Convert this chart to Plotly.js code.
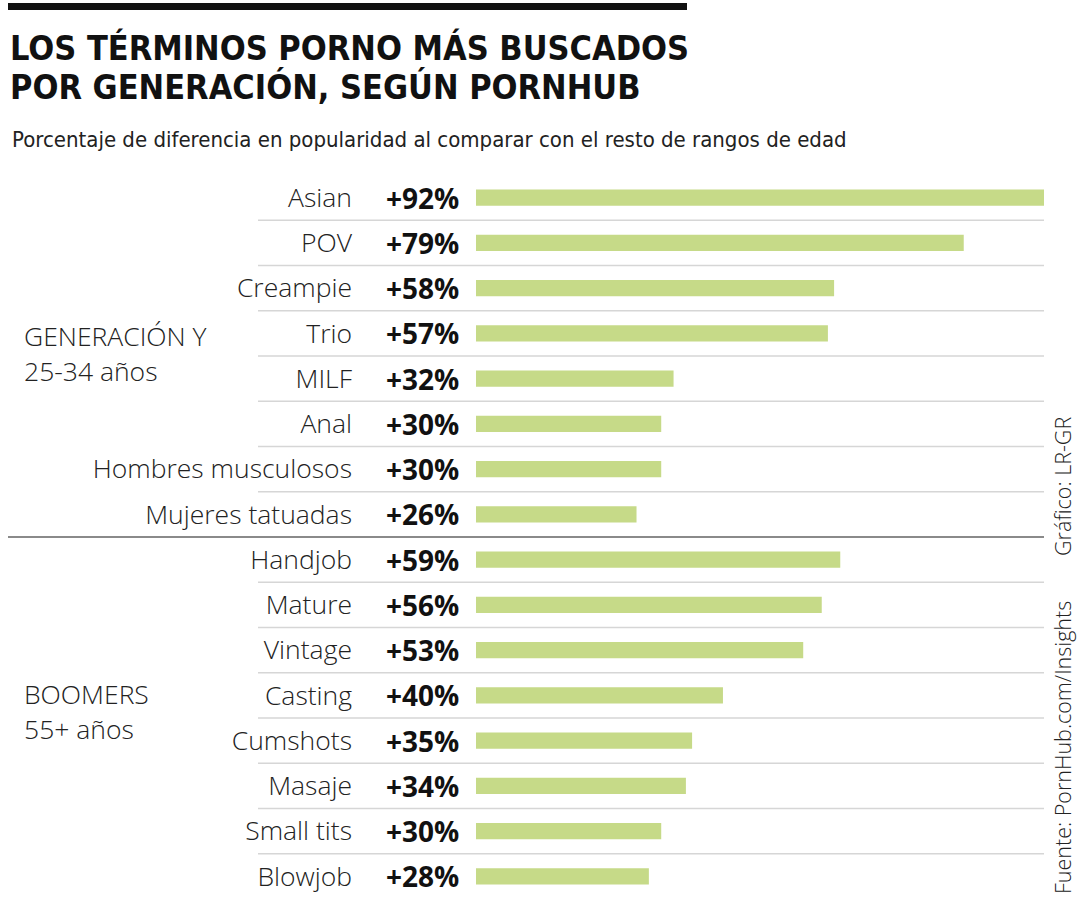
<!DOCTYPE html>
<html>
<head>
<meta charset="utf-8">
<script src="https://cdn.plot.ly/plotly-3.0.1.min.js"></script>
<style>
html,body{margin:0;padding:0;background:#fff;overflow:hidden;}
#chart{width:1080px;height:900px;}
</style>
</head>
<body>
<div id="chart"></div>
<script>
// ---- data ----
const terms = ["Asian","POV","Creampie","Trio","MILF","Anal","Hombres musculosos","Mujeres tatuadas",
               "Handjob","Mature","Vintage","Casting","Cumshots","Masaje","Small tits","Blowjob"];
const values = [92,79,58,57,32,30,30,26,59,56,53,40,35,34,30,28];
const groupNames = ["GENERACIÓN Y","BOOMERS"];
const groupAges = ["25-34 años","55+ años"];
const groupSizes = [8,8];
const titleLines = ["LOS TÉRMINOS PORNO MÁS BUSCADOS","POR GENERACIÓN, SEGÚN PORNHUB"];
const subtitle = "Porcentaje de diferencia en popularidad al comparar con el resto de rangos de edad";
const credit = "Gráfico: LR-GR";
const source = "Fuente: PornHub.com/Insights";

// ---- layout helpers (pixel -> paper) ----
const W = 1080, H = 900;
const mL = 476, mR = 36, mT = 175, mB = 1;
const pw = W - mL - mR, ph = H - mT - mB;
const px = x => (x - mL) / pw;
const py = y => (H - mB - y) / ph;

const LIGHT = "'Open Sans', 'Noto Sans', sans-serif";
const NARROW = "'Liberation Sans Narrow', 'DejaVu Sans Condensed', sans-serif";

const trace = {
  type: "bar",
  orientation: "h",
  y: terms,
  x: values,
  marker: {color: "#c6da88"},
  hoverinfo: "none"
};

const annotations = [];
// percentage labels
terms.forEach((t, i) => {
  annotations.push({
    xref: "paper", yref: "y", x: px(461), y: t, xanchor: "right", yanchor: "middle",
    text: "+" + values[i] + "%", showarrow: false,
    font: {family: LIGHT, size: 28, color: "#111", weight: 700}
  });
});
// group labels
const groupCenters = [354, 712];
groupNames.forEach((g, k) => {
  annotations.push({xref: "paper", yref: "paper", x: px(22), y: py(groupCenters[k] - 18),
    xanchor: "left", yanchor: "middle", text: g, showarrow: false,
    font: {family: LIGHT, size: 26.5, color: "#222", weight: 300}});
  annotations.push({xref: "paper", yref: "paper", x: px(22), y: py(groupCenters[k] + 17),
    xanchor: "left", yanchor: "middle", text: groupAges[k], showarrow: false,
    font: {family: LIGHT, size: 26.5, color: "#222", weight: 300}});
});
// title lines
annotations.push({xref: "paper", yref: "paper", x: px(8), y: py(48), xanchor: "left", yanchor: "middle",
  text: titleLines[0], showarrow: false, font: {family: NARROW, size: 34, color: "#111", weight: 700}});
annotations.push({xref: "paper", yref: "paper", x: px(8), y: py(87), xanchor: "left", yanchor: "middle",
  text: titleLines[1], showarrow: false, font: {family: NARROW, size: 34, color: "#111", weight: 700}});
annotations.push({xref: "paper", yref: "paper", x: px(10), y: py(139), xanchor: "left", yanchor: "middle",
  text: subtitle, showarrow: false, font: {family: NARROW, size: 22, color: "#222"}});
// rotated credits
annotations.push({xref: "paper", yref: "paper", x: px(1062), y: py(487), xanchor: "center", yanchor: "middle",
  text: credit, textangle: -90, showarrow: false, font: {family: LIGHT, size: 21.5, color: "#222", weight: 300}});
annotations.push({xref: "paper", yref: "paper", x: px(1062), y: py(748), xanchor: "center", yanchor: "middle",
  text: source, textangle: -90, showarrow: false, font: {family: LIGHT, size: 21.5, color: "#222", weight: 300}});

const shapes = [];
// top black rule
shapes.push({type: "rect", xref: "paper", yref: "paper", x0: px(8), x1: px(687), y0: py(3), y1: py(10),
  fillcolor: "#111", line: {width: 0}, layer: "above"});
// row separators
const sep = groupSizes[0] - 0.5;
for (let i = 0; i < terms.length - 1; i++) {
  const yv = i + 0.5;
  if (yv === sep) {
    shapes.push({type: "line", xref: "paper", yref: "y", x0: px(8), x1: px(1044), y0: yv, y1: yv,
      line: {color: "#8a8a8a", width: 2}, layer: "below"});
  } else {
    shapes.push({type: "line", xref: "paper", yref: "y", x0: px(258), x1: px(1044), y0: yv, y1: yv,
      line: {color: "#d6d6d6", width: 1.5}, layer: "below"});
  }
}

const layout = {
  width: W, height: H,
  margin: {l: mL, r: mR, t: mT, b: mB, pad: 0},
  paper_bgcolor: "#fff", plot_bgcolor: "#fff",
  bargap: 0.645,
  showlegend: false,
  xaxis: {range: [0, 92], visible: false, fixedrange: true},
  yaxis: {
    type: "category", autorange: false, range: [terms.length - 0.5, -0.5],
    showgrid: false, zeroline: false, showline: false, ticks: "",
    ticklabelstandoff: 123,
    tickfont: {family: LIGHT, size: 26.5, color: "#222", weight: 300},
    fixedrange: true
  },
  annotations: annotations,
  shapes: shapes
};

Plotly.newPlot("chart", [trace], layout, {displayModeBar: false, staticPlot: true});
</script>
</body>
</html>
